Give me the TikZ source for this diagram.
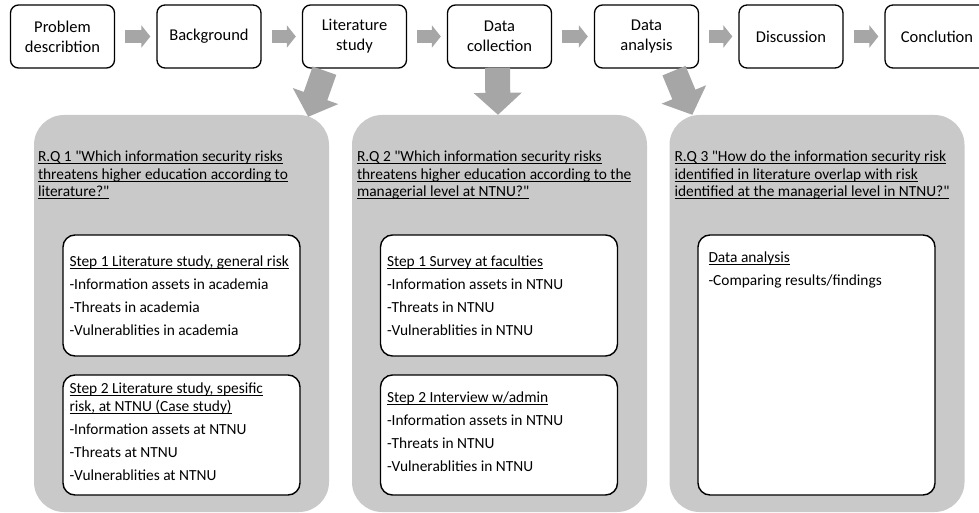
\documentclass[tikz,border=0pt]{standalone}
\usepackage{fontspec}
\setmainfont{Carlito}[Ligatures=TeXOff]
\usetikzlibrary{arrows.meta,calc}
\definecolor{panelgray}{HTML}{C9C9C9}
\definecolor{arrowgray}{HTML}{A6A6A6}
\newcommand\myul[1]{\setbox0\hbox{#1}\rlap{\rule[-2.3pt]{\wd0}{0.8pt}}\box0}
\begin{document}
\begin{tikzpicture}[x=1pt,y=-1pt,
 topbox/.style={draw, line width=1.3pt, rounded corners=8pt, minimum width=104pt, minimum height=63pt, align=center, font=\fontsize{16.5}{20}\selectfont, inner sep=0pt},
 panel/.style={fill=panelgray, rounded corners=30pt, minimum width=295pt, minimum height=397pt, inner sep=0pt},
 stepbox/.style={draw, fill=white, line width=1.4pt, rounded corners=12pt, minimum width=237pt, inner sep=0pt},
 txt/.style={anchor=north west, inner sep=0pt, align=left, font=\fontsize{15.4}{17.5}\selectfont},
 smallarr/.style={draw=arrowgray, line width=13pt, -{Triangle[width=22pt,length=9pt,fill=arrowgray]}},
 bigarr/.style={draw=arrowgray, line width=25pt, -{Triangle[width=47pt,length=22pt,fill=arrowgray]}},
]
\useasboundingbox (0,0) rectangle (979,513);

% panels
\node[panel] (p1) at (181.5,313.5) {};
\node[panel] (p2) at (499.5,313.5) {};
\node[panel] (p3) at (817,313.5) {};

% top boxes
\node[topbox] (b1) at (62.5,36.5) {Problem\\describtion};
\node[topbox] (b2) at (209,36.5) {Background};
\node[topbox] (b3) at (354.5,36.5) {Literature\\study};
\node[topbox] (b4) at (499.5,36.5) {Data\\collection};
\node[topbox] (b5) at (646.5,36.5) {Data\\analysis};
\node[topbox] (b6) at (791,36.5) {Discussion};
\node[topbox] (b7) at (937,36.5) {Conclution};

% small arrows
\draw[smallarr] ([xshift=10pt]b1.east) -- ([xshift=-6pt]b2.west);
\draw[smallarr] ([xshift=10pt]b2.east) -- ([xshift=-6pt]b3.west);
\draw[smallarr] ([xshift=10pt]b3.east) -- ([xshift=-6pt]b4.west);
\draw[smallarr] ([xshift=10pt]b4.east) -- ([xshift=-6pt]b5.west);
\draw[smallarr] ([xshift=10pt]b5.east) -- ([xshift=-6pt]b6.west);
\draw[smallarr] ([xshift=10pt]b6.east) -- ([xshift=-6pt]b7.west);

% big arrows
\draw[bigarr] ($(b3.south)+(-30,2)$) -- ($(p1.north east)+(-21,2)$);
\draw[bigarr] ($(b4.south)+(-2,-1)$) -- ($(p2.north)+(-1.5,0)$);
\draw[bigarr] ($(b5.south)+(27.5,2)$) -- ($(p3.north west)+(23,0)$);

% titles
\node[txt] (t1) at ([shift={(4,36)}]p1.north west) {\myul{R.Q 1 "Which information security risks}\\\myul{threatens higher education according to}\\\myul{literature?"}};
\node[txt] (t2) at ([shift={(5,36)}]p2.north west) {\myul{R.Q 2 "Which information security risks}\\\myul{threatens higher education according to the}\\\myul{managerial level at NTNU?"}};
\node[txt] (t3) at ([shift={(5,36)}]p3.north west) {\myul{R.Q 3 "How do the information security risk}\\\myul{identified in literature overlap with risk}\\\myul{identified at the managerial level in NTNU?"}};

% step boxes
\node[stepbox, minimum height=121pt] (s11) at (181.5,295.5) {};
\node[stepbox, minimum height=120pt] (s12) at (181.5,435) {};
\node[stepbox, minimum height=121pt] (s21) at (499,295.5) {};
\node[stepbox, minimum height=120pt] (s22) at (499,435) {};
\node[stepbox, minimum height=260pt] (s31) at (816.5,365) {};

\node[txt] (x11) at ([shift={(7,21.5)}]s11.north west) {\myul{Step 1 Literature study, general risk}\\[5.5pt]-Information assets in academia\\[5.5pt]-Threats in academia\\[5.5pt]-Vulnerablities in academia};
\node[txt] (x12) at ([shift={(7,8.5)}]s12.north west) {\myul{Step 2 Literature study, spesific}\\\myul{risk, at NTNU (Case study)}\\[5.5pt]-Information assets at NTNU\\[5.5pt]-Threats at NTNU\\[5.5pt]-Vulnerablities at NTNU};
\node[txt] (x21) at ([shift={(7,21.5)}]s21.north west) {\myul{Step 1 Survey at faculties}\\[5.5pt]-Information assets in NTNU\\[5.5pt]-Threats in NTNU\\[5.5pt]-Vulnerablities in NTNU};
\node[txt] (x22) at ([shift={(7,17.5)}]s22.north west) {\myul{Step 2 Interview w/admin}\\[5.5pt]-Information assets in NTNU\\[5.5pt]-Threats in NTNU\\[5.5pt]-Vulnerablities in NTNU};
\node[txt] (x31) at ([shift={(11,17.5)}]s31.north west) {\myul{Data analysis}\\[5.5pt]-Comparing results/findings};
\end{tikzpicture}
\end{document}
